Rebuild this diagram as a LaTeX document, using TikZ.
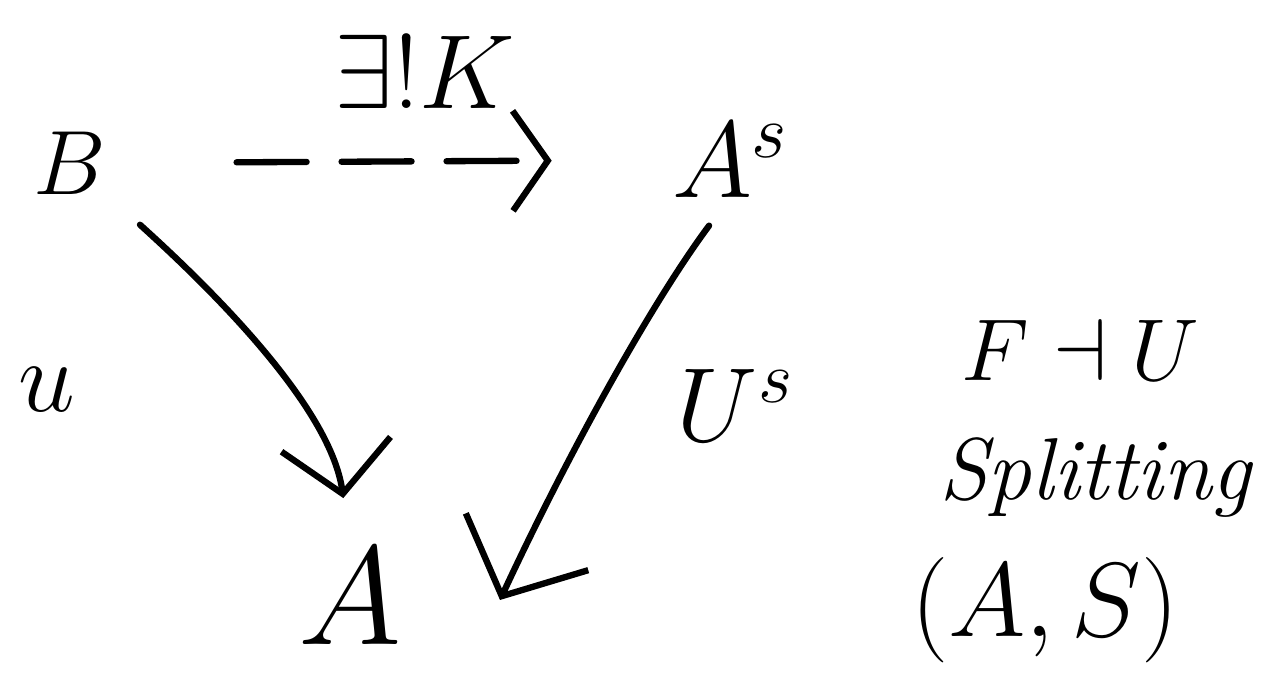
\RequirePackage{fix-cm}
\documentclass[tikz,border=0pt]{standalone}
\usepackage{amsmath}
\usetikzlibrary{arrows.meta}
\newcommand{\fs}[1]{\fontsize{#1}{#1}\selectfont}
\begin{document}
\begin{tikzpicture}[x=0.02cm,y=-0.02cm,
  lbl/.style={inner sep=0pt,text=black},
  stroke/.style={line width=3.6pt,line cap=round,line join=round},
  bigtip/.style={-{Straight Barb[length=1.0cm,width=2.2cm]}},
  dashtip/.style={-{Straight Barb[length=0.7cm,width=2.0cm]}},
  longtip/.style={-{Straight Barb[length=1.2cm,width=2.7cm]}}]
\useasboundingbox (0,0) rectangle (1272,688);
\node[lbl] (B)  at (70,163) {\fs{52}$B$};
\node[lbl] (As) at (730,160) {\fs{62}$A^{s}$};
\node[lbl] (A)  at (350,596) {\fs{80}$A$};
\node[lbl] (K)  at (425,72) {\fs{60}$\exists!K$};
\node[lbl] (u)  at (47,390) {\fs{58}$u$};
\node[lbl] (Us) at (735,405) {\fs{60}$U^{s}$};
\node[lbl] (adj) at (1080,350) {\fs{50}$F\dashv U$};
\node[lbl] (spl) at (1095,478) {\fs{50}\itshape Splitting};
\node[lbl] (AS) at (1045,610) {\fs{60}$(A,S)$};
\coordinate (Atip) at (500,600);
% dashed arrow B -> A^s
\draw[stroke,dashtip,dash pattern=on 1.4cm off 0.7cm,shorten <=2.6cm,shorten >=2.4cm] (B.east) -- (As.west);
% arrow u : B -> A
\draw[stroke,bigtip,shorten <=0.9cm,shorten >=1.0cm] (B.south east) .. controls (190,270) and (330,400) .. (A.north);
% arrow U^s : A^s -> A
\draw[stroke,longtip,shorten <=0.7cm] (As.south) .. controls (650,305) and (565,460) .. (Atip);
\end{tikzpicture}
\end{document}
